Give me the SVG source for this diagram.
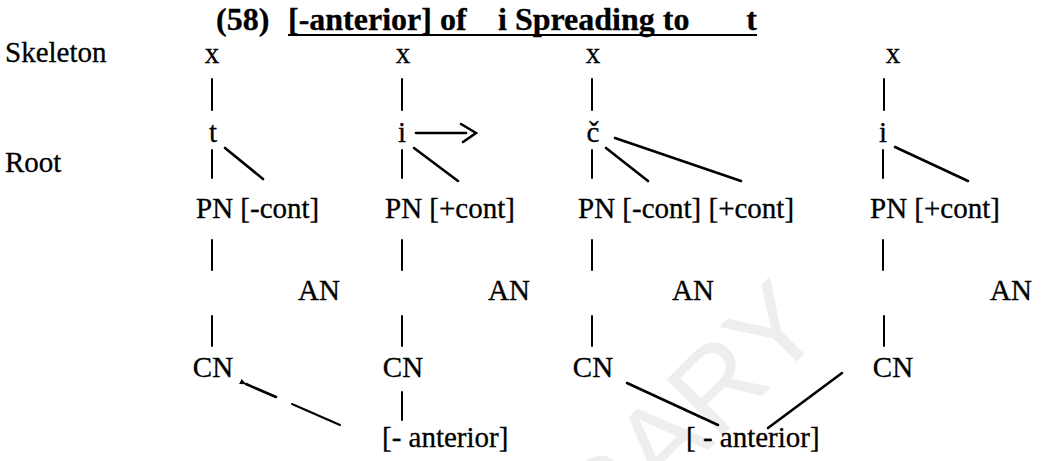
<svg xmlns="http://www.w3.org/2000/svg" width="1048" height="461" viewBox="0 0 1048 461">
  <style>
    .t { font-family: "Liberation Serif", "Times New Roman", serif; font-size: 29px; fill: #000; stroke: #000; stroke-width: 0.3; }
    .m { text-anchor: middle; }
    .b { font-weight: bold; font-size: 32px; }
    .ln { stroke: #000; stroke-width: 2; fill: none; stroke-linecap: round; }
    .dg { stroke: #000; stroke-width: 2.6; fill: none; stroke-linecap: round; }
    .wm { font-family: "Liberation Sans", Arial, sans-serif; font-size: 115px; fill: #eeeeee; }
  </style>
  <defs>
    <marker id="head" viewBox="0 0 10 10" refX="1" refY="5" markerWidth="7" markerHeight="7" orient="auto-start-reverse" markerUnits="userSpaceOnUse">
      <path d="M10,1 L0,5 L10,9 Z" fill="#000"/>
    </marker>
  </defs>
  <rect width="1048" height="461" fill="#fff"/>

  <!-- faint stamp in the background -->
  <text class="wm" transform="translate(662 496) rotate(-45)" x="-256" y="0">LIBRARY</text>

  <!-- heading -->
  <g id="title">
    <text class="t b" x="216" y="30">(58)</text>
    <text class="t b" y="30"><tspan x="288">[-anterior] of</tspan><tspan x="498">i Spreading to</tspan><tspan x="757" text-anchor="end">t</tspan></text>
    <line x1="288" y1="35" x2="757" y2="35" stroke="#000" stroke-width="2"/>
  </g>

  <!-- tier labels -->
  <g id="labels">
    <text class="t" x="5" y="62">Skeleton</text>
    <text class="t" x="5" y="172">Root</text>
  </g>

  <!-- column 1: t -->
  <g id="col1">
    <text class="t m" x="212" y="63">x</text>
    <text class="t m" x="213" y="142">t</text>
    <text class="t" x="196" y="218">PN [-cont]</text>
    <text class="t" x="298" y="300">AN</text>
    <text class="t m" x="213" y="377">CN</text>
  </g>

  <!-- column 2: i -->
  <g id="col2">
    <text class="t m" x="403" y="63">x</text>
    <text class="t m" x="402" y="142">i</text>
    <text class="t" x="385" y="218">PN [+cont]</text>
    <text class="t" x="488" y="300">AN</text>
    <text class="t m" x="403" y="377">CN</text>
    <text class="t" x="382" y="447" xml:space="preserve">[- anterior]</text>
  </g>

  <!-- column 3: c-hacek -->
  <g id="col3">
    <text class="t m" x="593" y="63">x</text>
    <text class="t m" x="593" y="142">č</text>
    <text class="t" x="578" y="218">PN [-cont] [+cont]</text>
    <text class="t" x="672" y="300">AN</text>
    <text class="t m" x="593" y="377">CN</text>
    <text class="t" x="686" y="447" xml:space="preserve">[ - anterior]</text>
  </g>

  <!-- column 4: i -->
  <g id="col4">
    <text class="t m" x="893" y="63">x</text>
    <text class="t m" x="883" y="142">i</text>
    <text class="t" x="870" y="218">PN [+cont]</text>
    <text class="t" x="990" y="300">AN</text>
    <text class="t m" x="893" y="377">CN</text>
  </g>

  <!-- association lines -->
  <g id="connectors">
    <!-- column 1 -->
    <line class="ln" x1="212" y1="79" x2="212" y2="110"/>
    <line class="ln" x1="212" y1="150" x2="212" y2="178"/>
    <line class="dg" x1="225" y1="148" x2="263" y2="179"/>
    <line class="ln" x1="212" y1="240" x2="212" y2="270"/>
    <line class="ln" x1="212" y1="316" x2="212" y2="346"/>
    <!-- spreading of [-anterior] back onto CN of t -->
    <line class="dg" x1="276" y1="397" x2="246" y2="384" marker-end="url(#head)"/>
    <line class="ln" x1="292" y1="404" x2="340" y2="425"/>
    <!-- column 2 -->
    <line class="ln" x1="402" y1="79" x2="402" y2="110"/>
    <line class="dg" x1="416" y1="133" x2="466" y2="133"/>
    <polyline class="dg" points="461,124 476,133 463,142"/>
    <line class="ln" x1="402" y1="150" x2="402" y2="178"/>
    <line class="dg" x1="414" y1="148" x2="458" y2="181"/>
    <line class="ln" x1="402" y1="240" x2="402" y2="270"/>
    <line class="ln" x1="402" y1="316" x2="402" y2="346"/>
    <line class="ln" x1="402" y1="392" x2="402" y2="420"/>
    <!-- column 3 -->
    <line class="ln" x1="592" y1="79" x2="592" y2="110"/>
    <line class="ln" x1="592" y1="150" x2="592" y2="178"/>
    <line class="dg" x1="606" y1="148" x2="648" y2="181"/>
    <line class="dg" x1="615" y1="138" x2="741" y2="181"/>
    <line class="ln" x1="592" y1="240" x2="592" y2="270"/>
    <line class="ln" x1="592" y1="316" x2="592" y2="346"/>
    <line class="dg" x1="627" y1="383" x2="718" y2="425"/>
    <!-- column 4 -->
    <line class="ln" x1="884" y1="79" x2="884" y2="110"/>
    <line class="ln" x1="883" y1="150" x2="883" y2="178"/>
    <line class="dg" x1="895" y1="147" x2="968" y2="181"/>
    <line class="ln" x1="883" y1="240" x2="883" y2="270"/>
    <line class="ln" x1="884" y1="316" x2="884" y2="346"/>
    <line class="dg" x1="842" y1="373" x2="768" y2="428"/>
  </g>
</svg>
